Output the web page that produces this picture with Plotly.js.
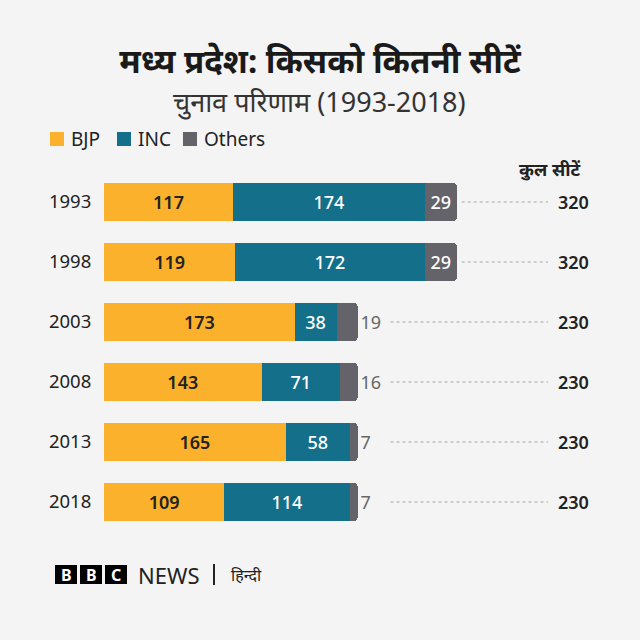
<!DOCTYPE html>
<html>
<head>
<meta charset="utf-8">
<script src="https://cdn.plot.ly/plotly-3.0.1.min.js"></script>
<style>
  html, body { margin: 0; padding: 0; background: #f4f4f4; }
  #chart { width: 640px; height: 640px; }
</style>
</head>
<body>
<div id="chart"></div>
<script>
// Madhya Pradesh assembly results, seats per party
const years = ['1993', '1998', '2003', '2008', '2013', '2018'];
const bjp = [117, 119, 173, 143, 165, 109];
const inc = [174, 172, 38, 71, 58, 114];
const others = [29, 29, 19, 16, 7, 7];
const totals = [320, 320, 230, 230, 230, 230];
const partyNames = ['BJP', 'INC', 'Others'];
const partyColors = ['#fcb12c', '#146f8a', '#646369'];

const FONT = '"Noto Sans", "Noto Sans Devanagari", "Lohit Devanagari", "DejaVu Sans", sans-serif';
const BG = '#f4f4f4';

// plot area geometry (pixels)
const L = 104, T = 172, W = 496, H = 360;
const XMAX = 450;
const k = W / XMAX;                       // pixels per seat
const px2x = px => (px - L) / W;          // page px -> paper x
const py2y = py => (T + H - py) / H;      // page px -> paper y
const pxToSeats = px => px / k;

// small "others" bars get their label outside the bar end
const othersPos = others.map(v => v >= 25 ? 'inside' : 'outside');

const barCommon = {
  type: 'bar',
  orientation: 'h',
  y: years,
  width: 0.63,
  texttemplate: '%{x}',
  insidetextanchor: 'middle',
  constraintext: 'none',
  cliponaxis: false,
  hoverinfo: 'skip',
  showlegend: false
};

const traces = [
  Object.assign({}, barCommon, {
    name: partyNames[0], x: bjp, marker: {color: partyColors[0]},
    textposition: 'inside',
    insidetextfont: {family: FONT, size: 18, color: '#222222', weight: 600}
  }),
  Object.assign({}, barCommon, {
    name: partyNames[1], x: inc, marker: {color: partyColors[1]},
    textposition: 'inside',
    insidetextfont: {family: FONT, size: 18, color: '#ffffff', weight: 500}
  }),
  Object.assign({}, barCommon, {
    name: partyNames[2], x: others, marker: {color: partyColors[2]},
    textposition: othersPos,
    insidetextfont: {family: FONT, size: 18, color: '#ffffff', weight: 500},
    outsidetextfont: {family: FONT, size: 18, color: '#666666', weight: 400}
  })
];

// dotted leader lines from each bar (or its outside label) to the total
const leaderEnd = pxToSeats(548 - L);
const lx = [], ly = [];
years.forEach((yr, i) => {
  const gap = othersPos[i] === 'outside' ? 33 : 5;
  lx.push(totals[i] + pxToSeats(gap), leaderEnd, null);
  ly.push(yr, yr, null);
});
traces.push({
  type: 'scatter', mode: 'lines', x: lx, y: ly,
  line: {color: '#a8a8a8', width: 1, dash: 'dot'},
  hoverinfo: 'skip', showlegend: false, cliponaxis: false
});

const annotations = [];
const shapes = [];

// totals column (category index as y position)
const totalX = pxToSeats(573 - L);
years.forEach((yr, i) => {
  annotations.push({
    xref: 'x', yref: 'y', x: totalX, y: i, text: String(totals[i]),
    showarrow: false, xanchor: 'center', yanchor: 'middle',
    font: {family: FONT, size: 18, color: '#222222', weight: 600}
  });
});
annotations.push({
  xref: 'x', yref: 'paper', x: pxToSeats(550 - L), y: py2y(169), text: 'कुल सीटें',
  showarrow: false, xanchor: 'center', yanchor: 'middle',
  font: {family: FONT, size: 18, color: '#222222', weight: 700}
});

// subtitle
annotations.push({
  xref: 'paper', yref: 'paper', x: px2x(319), y: py2y(101),
  text: 'चुनाव परिणाम (1993-2018)', showarrow: false,
  xanchor: 'center', yanchor: 'middle',
  font: {family: FONT, size: 27, color: '#333333', weight: 400}
});

// legend
const legendSq = [50, 117, 183];
const legendTx = [70, 137, 203];
partyNames.forEach((nm, i) => {
  shapes.push({
    type: 'rect', xref: 'paper', yref: 'paper',
    x0: px2x(legendSq[i]), x1: px2x(legendSq[i] + 14),
    y0: py2y(146), y1: py2y(132),
    fillcolor: partyColors[i], line: {width: 0}
  });
  annotations.push({
    xref: 'paper', yref: 'paper', x: px2x(legendTx[i] - 1), y: py2y(139),
    text: nm, showarrow: false, xanchor: 'left', yanchor: 'middle',
    font: {family: FONT, size: 19, color: '#222222'}
  });
});

// footer: BBC NEWS | हिन्दी
const boxLeft = [55, 80, 105];
const boxLetters = ['B', 'B', 'C'];
boxLeft.forEach((bx, i) => {
  shapes.push({
    type: 'rect', xref: 'paper', yref: 'paper',
    x0: px2x(bx), x1: px2x(bx + 22), y0: py2y(584), y1: py2y(565),
    fillcolor: '#000000', line: {width: 0}
  });
  annotations.push({
    xref: 'paper', yref: 'paper', x: px2x(bx + 11), y: py2y(575),
    text: boxLetters[i], showarrow: false, xanchor: 'center', yanchor: 'middle',
    font: {family: FONT, size: 16, color: '#ffffff', weight: 700}
  });
});
annotations.push({
  xref: 'paper', yref: 'paper', x: px2x(136), y: py2y(575),
  text: 'NEWS', showarrow: false, xanchor: 'left', yanchor: 'middle',
  font: {family: FONT, size: 22, color: '#222222'}
});
shapes.push({
  type: 'line', xref: 'paper', yref: 'paper',
  x0: px2x(214), x1: px2x(214), y0: py2y(585), y1: py2y(564),
  line: {color: '#222222', width: 2}
});
annotations.push({
  xref: 'paper', yref: 'paper', x: px2x(229), y: py2y(575),
  text: 'हिन्दी', showarrow: false, xanchor: 'left', yanchor: 'middle',
  font: {family: FONT, size: 16, color: '#222222'}
});

const layout = {
  width: 640, height: 640,
  margin: {l: L, r: 640 - L - W, t: T, b: 640 - T - H, pad: 0},
  paper_bgcolor: BG, plot_bgcolor: BG,
  barmode: 'stack',
  barcornerradius: 3,
  showlegend: false,
  title: {
    text: 'मध्य प्रदेश: किसको कितनी सीटें',
    xref: 'container', yref: 'container', x: 0.5, y: 1 - 61 / 640,
    xanchor: 'center', yanchor: 'middle',
    font: {family: FONT, size: 33, color: '#1a1a1a', weight: 700}
  },
  xaxis: {range: [0, XMAX], visible: false, fixedrange: true},
  yaxis: {
    type: 'category', categoryorder: 'array', categoryarray: years,
    range: [years.length - 0.5, -0.5], autorange: false,
    showgrid: false, zeroline: false, showline: false,
    ticks: 'outside', ticklen: 8, tickcolor: 'rgba(0,0,0,0)',
    tickfont: {family: FONT, size: 18.5, color: '#222222'}, fixedrange: true
  },
  annotations: annotations,
  shapes: shapes
};

Plotly.newPlot('chart', traces, layout, {displayModeBar: false, staticPlot: true});
</script>
</body>
</html>
